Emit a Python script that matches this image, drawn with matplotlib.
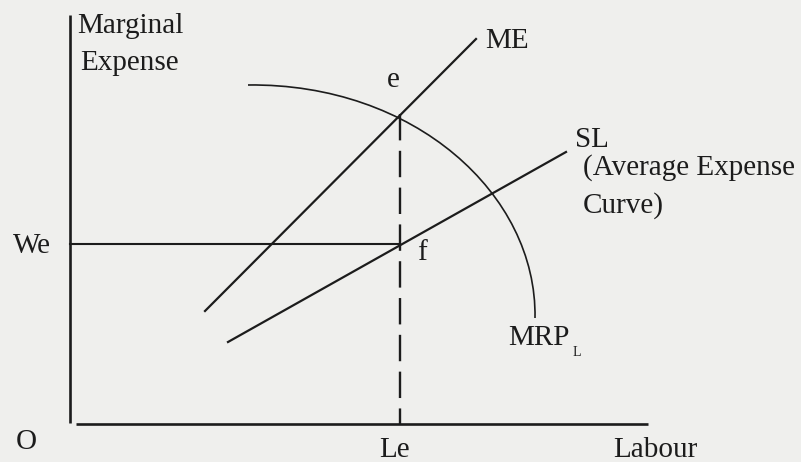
import matplotlib
matplotlib.use("Agg")
import matplotlib.pyplot as plt
from matplotlib.path import Path
from matplotlib.patches import PathPatch

y_axis_x = [70, 70]
y_axis_y = [15, 423]
x_axis_x = [76, 648]
x_axis_y = [424, 424]

we_x = [70, 400]
we_y = [244, 244]
le_x = [400, 400]
le_y = [114, 424]

me_x = [205, 476]
me_y = [311, 39]
sl_x = [228, 566]
sl_y = [342, 152]

# MRP_L curve: start, two bezier handles, end
mrp_pts = [(248, 85), (414, 83), (537, 194), (535, 318)]

labels = [
    ("Marginal", 77, 33),
    ("Expense", 80, 70),
    ("e", 387, 87),
    ("ME", 485, 48),
    ("SL", 575, 147),
    ("(Average Expense", 583, 175),
    ("Curve)", 583, 213),
    ("We", 13, 253),
    ("f", 417, 260),
    ("O", 16, 449),
    ("Le", 379, 457),
    ("Labour", 613, 457),
    ("MRP", 508, 345),
]

bg = "#efefed"
ink = "#1c1c1c"
plt.rcParams["font.family"] = ["Liberation Serif", "DejaVu Serif"]
plt.rcParams["lines.scale_dashes"] = False

fig = plt.figure(figsize=(8.01, 4.62), dpi=100, facecolor=bg)
ax = fig.add_axes([0, 0, 1, 1])
ax.set_facecolor(bg)
ax.set_xlim(0, 801)
ax.set_ylim(462, 0)
ax.axis("off")

ax.plot(y_axis_x, y_axis_y, color=ink, lw=1.9, solid_capstyle="butt")
ax.plot(x_axis_x, x_axis_y, color=ink, lw=1.9, solid_capstyle="butt")
ax.plot(we_x, we_y, color=ink, lw=1.5)
ax.plot(le_x, le_y, color=ink, lw=1.7, linestyle=(0, (19, 7.5)))
ax.plot(me_x, me_y, color=ink, lw=1.6)
ax.plot(sl_x, sl_y, color=ink, lw=1.6)

codes = [Path.MOVETO, Path.CURVE4, Path.CURVE4, Path.CURVE4]
ax.add_patch(PathPatch(Path(mrp_pts, codes), fill=False, edgecolor=ink, lw=1.2))

for txt, x, y in labels:
    ax.text(x, y, txt, fontsize=21, color=ink, ha="left", va="baseline")
ax.text(573, 356, "L", fontsize=10, color=ink, ha="left", va="baseline")

fig.savefig("out.png", dpi=100, facecolor=bg)
